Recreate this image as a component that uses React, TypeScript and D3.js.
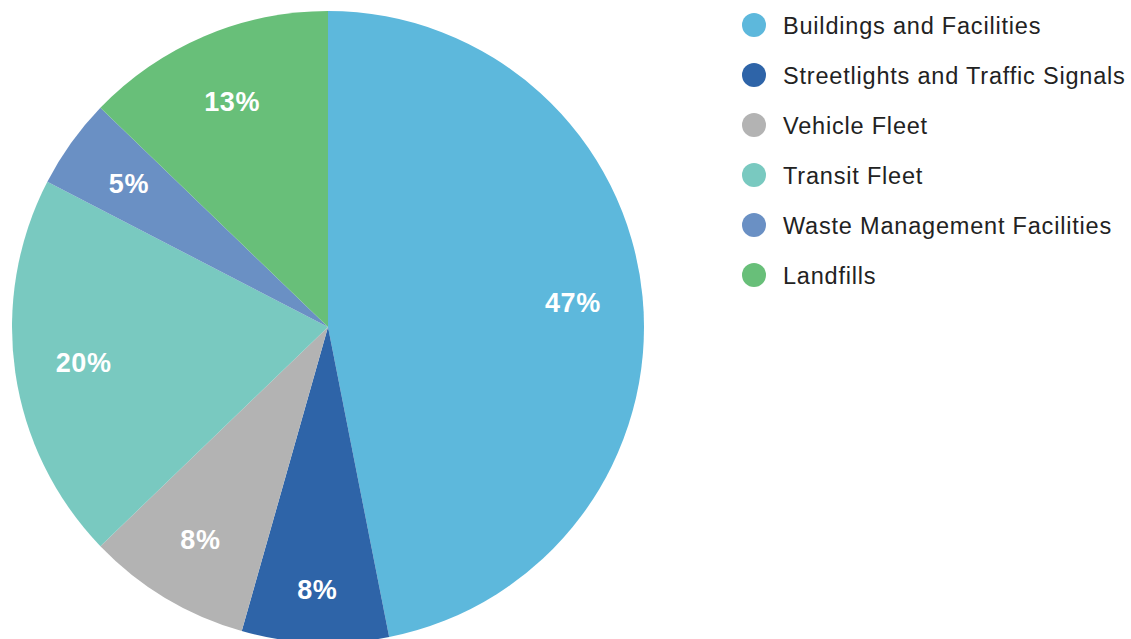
import React from "react";
import * as d3 from "d3";

const categories = [
  "Buildings and Facilities",
  "Streetlights and Traffic Signals",
  "Vehicle Fleet",
  "Transit Fleet",
  "Waste Management Facilities",
  "Landfills",
];
const values = [46.9, 7.5, 8.4, 19.8, 4.6, 12.8];
const labels = ["47%", "8%", "8%", "20%", "5%", "13%"];
const colors = ["#5db8dc", "#2e64a8", "#b3b3b3", "#79c9c0", "#6a90c4", "#68bf79"];
const labelRadii = [246, 263, 248, 247, 245, 245];

export default function App() {
  const W = 1131, H = 639;
  const cx = 328, cy = 327, R = 316;
  const pie = d3.pie<number>().sort(null).value((d) => d);
  const arcs = pie(values);
  const arc = d3.arc<d3.PieArcDatum<number>>().innerRadius(0).outerRadius(R);
  const font = "'Liberation Sans', Arial, sans-serif";
  return (
    <svg width={W} height={H} style={{ position: "absolute", left: 0, top: 0 }}>
      <g transform={`translate(${cx},${cy})`}>
        {arcs.map((a, i) => (
          <path key={i} d={arc(a) || ""} fill={colors[i]} />
        ))}
        {arcs.map((a, i) => {
          const la = d3.arc<d3.PieArcDatum<number>>().innerRadius(labelRadii[i]).outerRadius(labelRadii[i]);
          const [x, y] = la.centroid(a);
          return (
            <text
              key={"l" + i}
              x={x}
              y={y}
              textAnchor="middle"
              dominantBaseline="central"
              fill="#fff"
              fontFamily={font}
              fontWeight="bold"
              fontSize={27}
              letterSpacing={0.6}
            >
              {labels[i]}
            </text>
          );
        })}
      </g>
      <g>
        {categories.map((c, i) => (
          <g key={c} transform={`translate(754,${25 + i * 50})`}>
            <circle r={12} fill={colors[i]} />
            <text x={29} y={1} dominantBaseline="central" fontFamily={font} fontSize={23.5} letterSpacing={0.8} fill="#222">
              {c}
            </text>
          </g>
        ))}
      </g>
    </svg>
  );
}
